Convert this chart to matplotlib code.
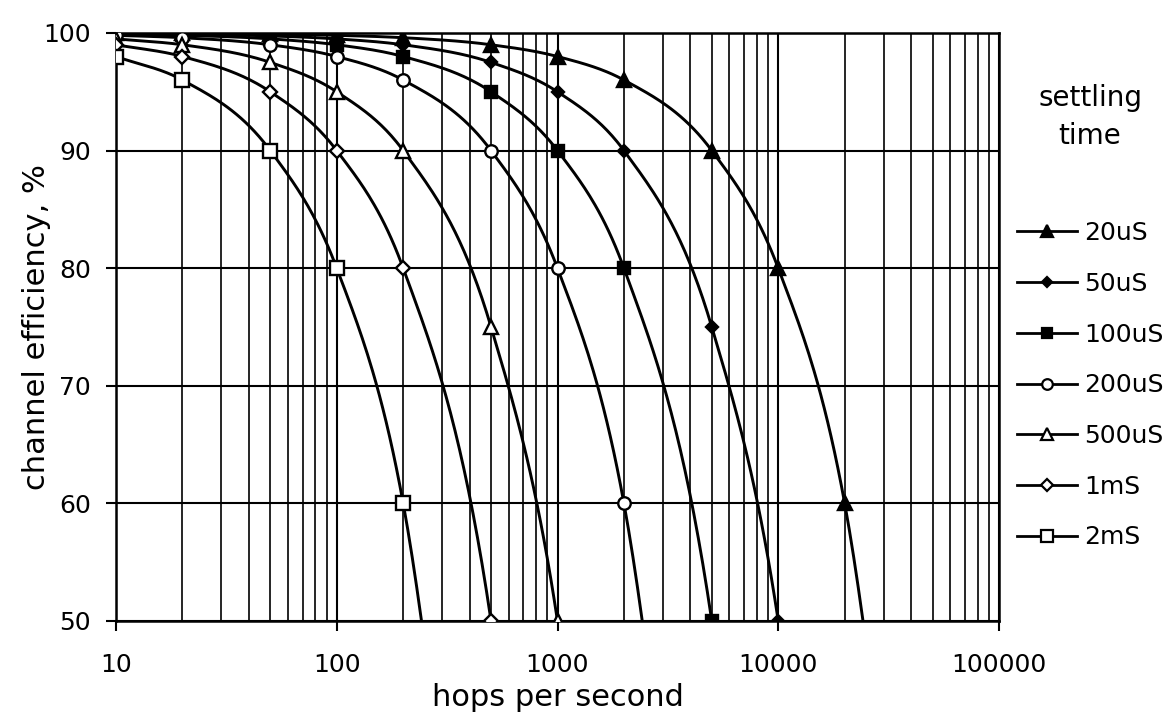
import numpy as np
import matplotlib.pyplot as plt
from matplotlib.lines import Line2D
from matplotlib.ticker import LogLocator, FixedLocator, NullFormatter, FuncFormatter

# hops per second (x) and channel efficiency in %
hops = [10, 20, 50, 100, 200, 500, 1000, 2000, 5000, 10000, 20000, 50000]

labels = ["20uS", "50uS", "100uS", "200uS", "500uS", "1mS", "2mS"]
eff_20us = [99.98, 99.96, 99.9, 99.8, 99.6, 99, 98, 96, 90, 80, 60, 0]
eff_50us = [99.95, 99.9, 99.75, 99.5, 99, 97.5, 95, 90, 75, 50, 0]
eff_100us = [99.9, 99.8, 99.5, 99, 98, 95, 90, 80, 50, 0]
eff_200us = [99.8, 99.6, 99, 98, 96, 90, 80, 60, 0]
eff_500us = [99.5, 99, 97.5, 95, 90, 75, 50, 0]
eff_1ms = [99, 98, 95, 90, 80, 50, 0]
eff_2ms = [98, 96, 90, 80, 60, 0]

series = [eff_20us, eff_50us, eff_100us, eff_200us, eff_500us, eff_1ms, eff_2ms]

# marker, filled?, size
styles = [("^", True, 9.5), ("D", True, 6.5), ("s", True, 9),
          ("o", False, 9), ("^", False, 9.5), ("D", False, 7), ("s", False, 9.5)]


def smooth(xs, ys, n=40):
    # smoothed line through the points (cubic hermite in log-x space)
    lx = np.log10(np.asarray(xs, float))
    y = np.asarray(ys, float)
    h = np.diff(lx)
    s = np.diff(y) / h
    d = np.empty_like(y)
    d[1:-1] = (h[:-1] * s[1:] + h[1:] * s[:-1]) / (h[:-1] + h[1:])
    d[0] = s[0]
    d[-1] = s[-1]
    t = np.linspace(0, 1, n)
    h00 = 2 * t ** 3 - 3 * t ** 2 + 1
    h10 = t ** 3 - 2 * t ** 2 + t
    h01 = -2 * t ** 3 + 3 * t ** 2
    h11 = t ** 3 - t ** 2
    ox, oy = [], []
    for i in range(len(lx) - 1):
        ox.append(lx[i] + t * h[i])
        oy.append(h00 * y[i] + h10 * h[i] * d[i] + h01 * y[i + 1] + h11 * h[i] * d[i + 1])
    return 10 ** np.concatenate(ox), np.concatenate(oy)


fig = plt.figure(figsize=(11.68, 7.26), dpi=100)
ax = fig.add_axes([116 / 1168, 1 - 621 / 726, (999 - 116) / 1168, (621 - 33) / 726])

handles = []
for vals, (mk, filled, ms) in zip(series, styles):
    xs = hops[:len(vals)]
    sx, sy = smooth(xs, vals)
    ax.plot(sx, sy, color="black", lw=2.1, zorder=3)
    fc = "black" if filled else "white"
    ax.plot(xs, vals, ls="none", marker=mk, ms=ms, mfc=fc, mec="black", mew=1.7, zorder=4)
    handles.append(Line2D([], [], color="black", lw=2.0, marker=mk, ms=ms * 0.85,
                          mfc=fc, mec="black", mew=1.6))

ax.set_xscale("log")
ax.set_xlim(10, 100000)
ax.set_ylim(50, 100)
ax.xaxis.set_major_locator(LogLocator(base=10, numticks=10))
ax.xaxis.set_minor_locator(LogLocator(base=10, subs=np.arange(2, 10), numticks=20))
ax.xaxis.set_major_formatter(FuncFormatter(lambda v, p: "%d" % round(v)))
ax.xaxis.set_minor_formatter(NullFormatter())
ax.yaxis.set_major_locator(FixedLocator([50, 60, 70, 80, 90, 100]))

ax.grid(which="major", color="black", lw=1.5)
ax.grid(which="minor", axis="x", color="black", lw=1.2)
ax.set_axisbelow(True)
for sp in ax.spines.values():
    sp.set_linewidth(1.8)

ax.tick_params(axis="x", which="major", direction="out", length=7, width=1.5, pad=16, labelsize=18)
ax.tick_params(axis="y", which="major", direction="out", length=7, width=1.5, pad=11, labelsize=18)
ax.tick_params(which="minor", length=0)

ax.set_xlabel("hops per second", fontsize=22, labelpad=4)
ax.set_ylabel("channel efficiency, %", fontsize=22)
ax.yaxis.set_label_coords(-0.074, 0.5)

fig.text(1090 / 1168, 1 - 117 / 726, "settling\ntime", ha="center", va="center",
         fontsize=20, linespacing=1.5)
fig.legend(handles, labels, loc="upper left", bbox_to_anchor=(1017 / 1168, 1 - 221 / 726),
           frameon=False, fontsize=18, handlelength=2.4, handletextpad=0.3,
           labelspacing=1.07, borderpad=0, borderaxespad=0)

fig.savefig("out.png", dpi=100)
